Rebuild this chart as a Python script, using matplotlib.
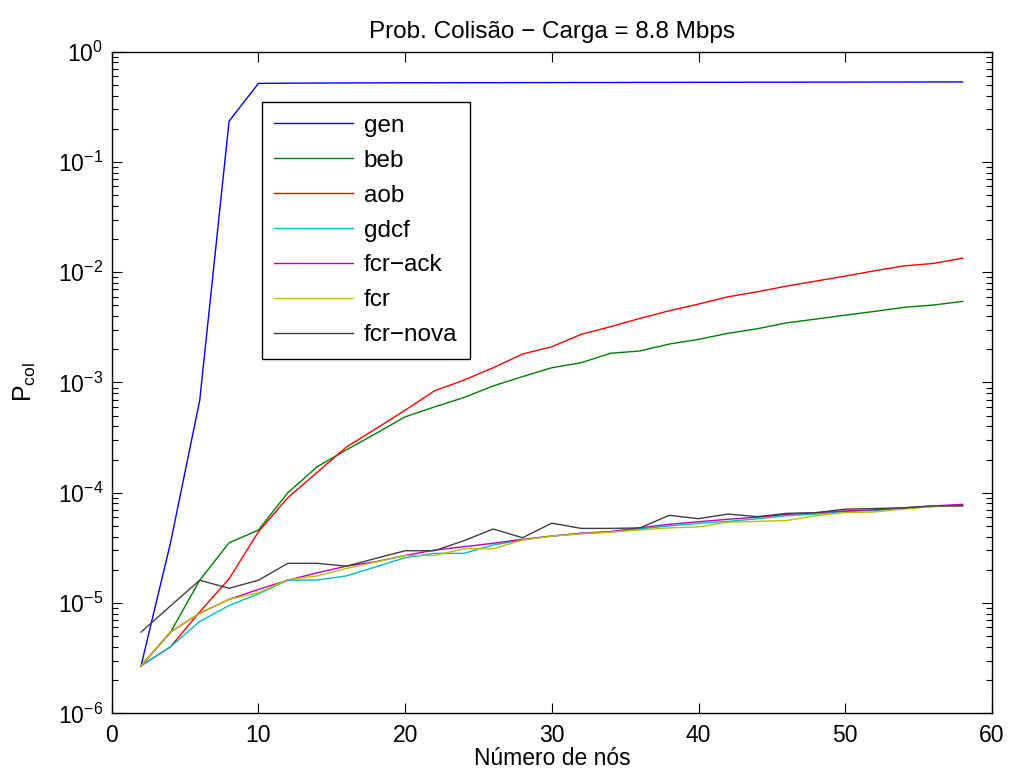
import numpy as np
import matplotlib
matplotlib.use("Agg")
import matplotlib.pyplot as plt
from matplotlib.ticker import LogLocator, FixedLocator, NullFormatter

plt.rcParams['font.family'] = ['Liberation Sans', 'DejaVu Sans']
plt.rcParams['mathtext.fontset'] = 'custom'
plt.rcParams['mathtext.rm'] = 'Liberation Sans'
plt.rcParams['mathtext.it'] = 'Liberation Sans'

nodes = list(range(2, 60, 2))

gen = [2.7e-6, 3.48e-5, 6.9e-4, 0.234, 0.515, 0.518, 0.519, 0.520, 0.521, 0.522,
       0.522, 0.523, 0.523, 0.524, 0.524, 0.525, 0.525, 0.526, 0.526, 0.527,
       0.527, 0.528, 0.528, 0.529, 0.529, 0.530, 0.530, 0.531, 0.531]
beb = [2.7e-6, 5.4e-6, 1.61e-5, 3.52e-5, 4.59e-5, 1.0e-4, 1.72e-4, 2.45e-4, 3.44e-4, 4.88e-4,
       6.0e-4, 7.3e-4, 9.3e-4, 1.13e-3, 1.36e-3, 1.51e-3, 1.84e-3, 1.93e-3, 2.23e-3, 2.46e-3,
       2.79e-3, 3.07e-3, 3.47e-3, 3.76e-3, 4.08e-3, 4.41e-3, 4.8e-3, 5.04e-3, 5.43e-3]
aob = [2.7e-6, 4.0e-6, 8.3e-6, 1.66e-5, 4.43e-5, 9.0e-5, 1.53e-4, 2.6e-4, 3.8e-4, 5.6e-4,
       8.4e-4, 1.05e-3, 1.36e-3, 1.81e-3, 2.11e-3, 2.73e-3, 3.2e-3, 3.81e-3, 4.47e-3, 5.14e-3,
       5.98e-3, 6.64e-3, 7.48e-3, 8.3e-3, 9.22e-3, 1.03e-2, 1.14e-2, 1.2e-2, 1.34e-2]
gdcf = [2.7e-6, 4.0e-6, 6.8e-6, 9.5e-6, 1.21e-5, 1.61e-5, 1.62e-5, 1.76e-5, 2.13e-5, 2.58e-5,
        2.82e-5, 2.82e-5, 3.36e-5, 3.73e-5, 4.05e-5, 4.25e-5, 4.4e-5, 4.7e-5, 5.0e-5, 5.27e-5,
        5.5e-5, 5.8e-5, 6.2e-5, 6.4e-5, 6.75e-5, 6.9e-5, 7.25e-5, 7.5e-5, 7.6e-5]
fcr_ack = [2.7e-6, 5.45e-6, 8.07e-6, 1.08e-5, 1.33e-5, 1.61e-5, 1.88e-5, 2.16e-5, 2.37e-5, 2.7e-5,
           3.02e-5, 3.24e-5, 3.48e-5, 3.78e-5, 4.05e-5, 4.3e-5, 4.45e-5, 4.82e-5, 5.17e-5, 5.46e-5,
           5.75e-5, 6.0e-5, 6.37e-5, 6.6e-5, 6.85e-5, 7.0e-5, 7.3e-5, 7.6e-5, 7.85e-5]
fcr = [2.7e-6, 5.45e-6, 8.07e-6, 1.08e-5, 1.24e-5, 1.63e-5, 1.76e-5, 2.06e-5, 2.35e-5, 2.7e-5,
       2.7e-5, 3.1e-5, 3.1e-5, 3.73e-5, 4.05e-5, 4.25e-5, 4.4e-5, 4.6e-5, 4.8e-5, 4.9e-5,
       5.4e-5, 5.5e-5, 5.6e-5, 6.2e-5, 6.6e-5, 6.7e-5, 7.1e-5, 7.5e-5, 7.6e-5]
fcr_nova = [5.45e-6, 9.4e-6, 1.61e-5, 1.36e-5, 1.61e-5, 2.29e-5, 2.29e-5, 2.16e-5, 2.54e-5, 2.98e-5,
            2.98e-5, 3.67e-5, 4.69e-5, 3.91e-5, 5.3e-5, 4.75e-5, 4.75e-5, 4.8e-5, 6.24e-5, 5.82e-5,
            6.41e-5, 6.07e-5, 6.5e-5, 6.6e-5, 7.1e-5, 7.2e-5, 7.3e-5, 7.6e-5, 7.6e-5]

series = [
    ("gen", gen, (0, 0, 1)),
    ("beb", beb, (0, 0.5, 0)),
    ("aob", aob, (1, 0, 0)),
    ("gdcf", gdcf, (0, 0.75, 0.75)),
    ("fcr\u2212ack", fcr_ack, (0.75, 0, 0.75)),
    ("fcr", fcr, (0.75, 0.75, 0)),
    ("fcr\u2212nova", fcr_nova, (0.25, 0.25, 0.25)),
]

fig = plt.figure(figsize=(10.11, 7.8), dpi=100)
ax = fig.add_axes([0.1105, 0.0855, 0.8707, 0.8483])

for label, vals, color in series:
    ax.plot(nodes, vals, color=color, linewidth=1.0, label=label)

ax.set_yscale('log')
ax.set_xlim(0, 60)
ax.set_ylim(1e-6, 1e0)
ax.xaxis.set_major_locator(FixedLocator([0, 10, 20, 30, 40, 50, 60]))
ax.yaxis.set_major_locator(FixedLocator([1e-6, 1e-5, 1e-4, 1e-3, 1e-2, 1e-1, 1e0]))
minor_pos = [m * 10.0 ** e for e in range(-6, 0) for m in range(2, 10)]
ax.yaxis.set_minor_locator(FixedLocator(minor_pos))
ax.yaxis.set_minor_formatter(NullFormatter())

ax.tick_params(which='both', direction='in', top=True, right=True, labelsize=16.5)
ax.tick_params(axis='x', which='major', pad=8)
ax.tick_params(axis='y', which='major', pad=6)
ax.tick_params(which='major', length=7, width=0.8)
ax.tick_params(which='minor', length=4, width=0.8)
ax.tick_params(axis='x', which='minor', bottom=False, top=False)
for s in ax.spines.values():
    s.set_linewidth(1.0)

ax.set_title("Prob. Colis\u00e3o \u2212 Carga = 8.8 Mbps", fontsize=17.5, pad=10)
ax.set_xlabel("N\u00famero de n\u00f3s", fontsize=16.5, labelpad=0)
ax.set_ylabel(r"P$_{\mathrm{col}}$", fontsize=18, labelpad=14)

leg = ax.legend(loc='upper left', bbox_to_anchor=(0.1704, 0.9235), borderaxespad=0,
                fontsize=17.5, frameon=True, fancybox=False, framealpha=1,
                edgecolor='black', handlelength=3.25, handletextpad=0.42,
                labelspacing=0.53, borderpad=0.52)
leg.get_frame().set_linewidth(1.0)

fig.savefig("out.png", dpi=100)
